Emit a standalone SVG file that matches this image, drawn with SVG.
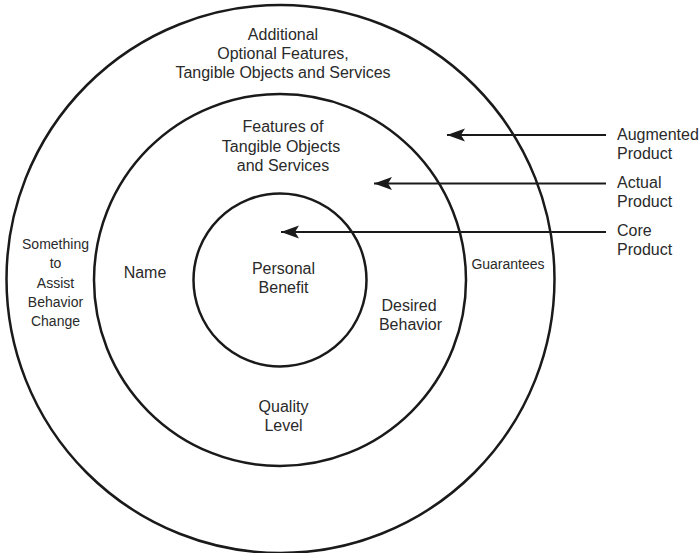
<svg xmlns="http://www.w3.org/2000/svg" width="699" height="553" viewBox="0 0 699 553">
<style>
.ring{fill:none;stroke:#1a1a1a;stroke-width:2.5}
.conn{fill:none;stroke:#1a1a1a;stroke-width:2.2}
text{font-family:"Liberation Sans",Arial,Helvetica,sans-serif;fill:#2a2a2a;font-size:16px;text-anchor:middle}
.sm{font-size:14px}
.lab{text-anchor:start}
</style>
<defs>
<marker id="ah" markerUnits="userSpaceOnUse" markerWidth="20" markerHeight="16" viewBox="0 0 20 16" refX="19" refY="8" orient="auto">
<path d="M19,8 L1,1.5 L5,8 L1,14.5 Z" fill="#1a1a1a"/>
</marker>
</defs>
<rect width="699" height="553" fill="#fff"/>
<g id="augmented-ring">
<circle class="ring" cx="280.5" cy="279" r="274"/>
<text x="283" y="40">Additional</text>
<text x="283" y="59">Optional Features,</text>
<text x="283" y="78">Tangible Objects and Services</text>
<text class="sm" x="55.5" y="249">Something</text>
<text class="sm" x="55.5" y="268">to</text>
<text class="sm" x="55.5" y="288">Assist</text>
<text class="sm" x="55.5" y="307">Behavior</text>
<text class="sm" x="55.5" y="326">Change</text>
<text class="sm" x="508" y="269">Guarantees</text>
</g>
<g id="actual-ring">
<circle class="ring" cx="280" cy="280" r="186"/>
<text x="283" y="132">Features of</text>
<text x="281" y="152">Tangible Objects</text>
<text x="283" y="171">and Services</text>
<text x="145" y="278">Name</text>
<text x="409" y="311">Desired</text>
<text x="410.5" y="330">Behavior</text>
<text x="283.5" y="412">Quality</text>
<text x="283.5" y="431">Level</text>
</g>
<g id="core-ring">
<circle class="ring" cx="280" cy="280" r="86.5"/>
<text x="283.5" y="274">Personal</text>
<text x="283.5" y="293">Benefit</text>
</g>
<g id="label-augmented">
<text class="lab" x="617" y="140">Augmented</text>
<text class="lab" x="617" y="159">Product</text>
</g>
<g id="label-actual">
<text class="lab" x="617" y="188">Actual</text>
<text class="lab" x="617" y="207">Product</text>
</g>
<g id="label-core">
<text class="lab" x="617" y="236">Core</text>
<text class="lab" x="617" y="255">Product</text>
</g>
<g id="connectors">
<line class="conn" x1="606" y1="135" x2="447" y2="135" marker-end="url(#ah)"/>
<line class="conn" x1="606" y1="183.5" x2="374" y2="183.5" marker-end="url(#ah)"/>
<line class="conn" x1="606" y1="232" x2="281" y2="232" marker-end="url(#ah)"/>
</g>
</svg>
